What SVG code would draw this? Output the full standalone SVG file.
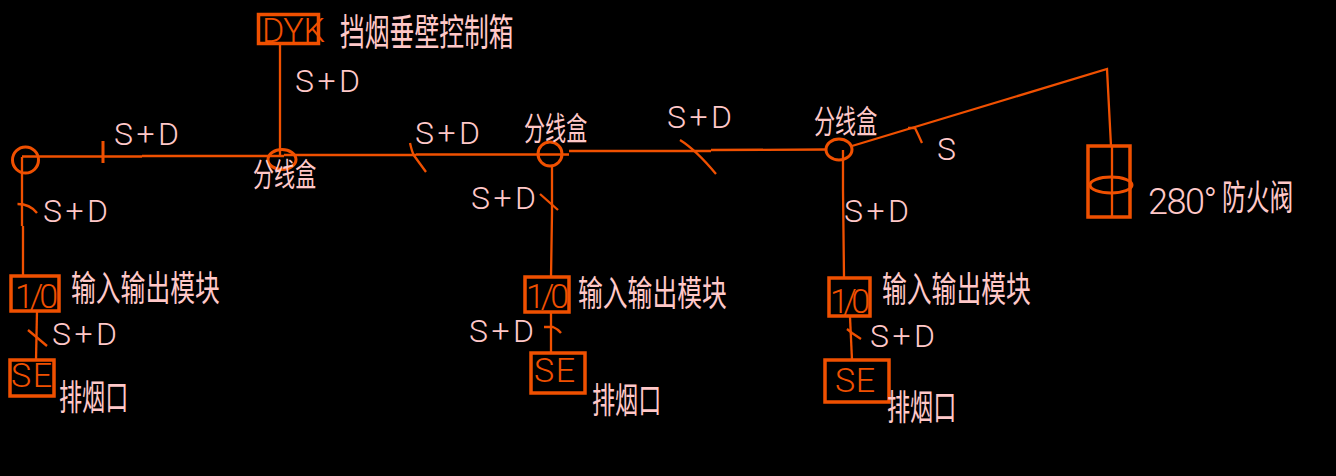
<svg xmlns="http://www.w3.org/2000/svg" width="1336" height="476" viewBox="0 0 1336 476">
<style>
.w{fill:none;stroke:#f05000;stroke-width:2.3}
.b{fill:none;stroke:#f05000;stroke-width:3.5}
.c{fill:none;stroke:#f05000;stroke-width:3}
.l{fill:#f05000;font-family:Roboto,"Liberation Sans",sans-serif;font-size:34px;font-weight:300}
.t{fill:#ffc8c8;font-family:Roboto,"Liberation Sans",sans-serif;font-size:32px;font-weight:300}
.z{fill:#ffc8c8;font-family:"Noto Sans CJK SC","Liberation Sans",sans-serif;font-size:34px;font-weight:400}
</style>
<rect width="1336" height="476" fill="#000"/>
<g id="connectors">
<path class="w" d="M22 156.500H142M142 156H284M284 155H416M416 154.500H569M569 151H711M711 150L826 149.500"/>
<path class="w" d="M280 43V155"/>
<path class="w" d="M22 157V226M23 226V277"/>
<path class="w" d="M37 311L36 360"/>
<path class="w" d="M552 166V213L551 277"/>
<path class="w" d="M551 313V353"/>
<path class="w" d="M843 150V190L844 277"/>
<path class="w" d="M850 317L852 360"/>
<path class="w" d="M852 146L1107 69L1111 146"/>
<path class="c" d="M103 141V163"/>
<path class="w" d="M410 143Q412 152 414 155.500L426 172"/>
<path class="w" d="M17.500 204Q30 204 37 213"/>
<path class="w" d="M28 330L47 346"/>
<path class="w" d="M540 194L558 210"/>
<path class="w" d="M544 327H553Q558 329 561 333"/>
<path class="w" d="M680 140Q696 150 716 174"/>
<path class="w" d="M847 329L852 333L861 339"/>
<path class="w" d="M908 128H915Q918 134 922 143"/>
</g>
<g id="dyk">
<rect class="b" x="258.500" y="14.500" width="60" height="29"/>
<text class="l" x="262" y="42" textLength="63" lengthAdjust="spacing">DYK</text>
<text class="z" transform="translate(340 46) scale(.73 1.1)">挡烟垂壁控制箱</text>
</g>
<g id="junction-1"><circle class="c" cx="25.500" cy="160" r="13"/></g>
<g id="junction-2">
<ellipse class="c" cx="282" cy="159.500" rx="14" ry="10"/>
<text class="z" transform="translate(253 186) scale(.62 .95)">分线盒</text>
</g>
<g id="junction-3">
<circle class="c" cx="550" cy="154" r="12"/>
<text class="z" transform="translate(524 140) scale(.62 .95)">分线盒</text>
</g>
<g id="junction-4">
<ellipse class="c" cx="839" cy="149.500" rx="13" ry="10.500"/>
<text class="z" transform="translate(814 133) scale(.62 .95)">分线盒</text>
</g>
<g id="io-1">
<rect class="b" x="11" y="276" width="48" height="35"/>
<text class="l" x="15" y="308" textLength="43" lengthAdjust="spacing">1/0</text>
<text class="z" transform="translate(71 301) scale(.73 1.05)">输入输出模块</text>
</g>
<g id="io-2">
<rect class="b" x="525" y="277" width="44" height="35"/>
<text class="l" x="526" y="308" textLength="43" lengthAdjust="spacing">1/0</text>
<text class="z" transform="translate(578 306) scale(.73 1.05)">输入输出模块</text>
</g>
<g id="io-3">
<rect class="b" x="829" y="278" width="41" height="38"/>
<text class="l" x="830" y="313" textLength="40" lengthAdjust="spacing">1/0</text>
<text class="z" transform="translate(882 302) scale(.73 1.05)">输入输出模块</text>
</g>
<g id="se-1">
<rect class="b" x="10" y="360" width="44" height="36"/>
<text class="l" x="11" y="387" textLength="41" lengthAdjust="spacing">SE</text>
<text class="z" transform="translate(59 410) scale(.68 1.05)">排烟口</text>
</g>
<g id="se-2">
<rect class="b" x="531" y="353" width="54" height="40"/>
<text class="l" x="534" y="382" textLength="41" lengthAdjust="spacing">SE</text>
<text class="z" transform="translate(592 413) scale(.68 1.05)">排烟口</text>
</g>
<g id="se-3">
<rect class="b" x="825" y="360" width="64" height="42"/>
<text class="l" x="835" y="392" textLength="40" lengthAdjust="spacing">SE</text>
<text class="z" transform="translate(887 420) scale(.68 1.05)">排烟口</text>
</g>
<g id="damper">
<rect class="b" x="1088" y="146" width="42" height="71"/>
<path class="w" d="M1112 146V217"/>
<ellipse class="c" cx="1111" cy="185" rx="21" ry="8"/>
<text class="t" x="1148" y="214" textLength="69" lengthAdjust="spacing" style="font-size:36px">280°</text>
<text class="z" transform="translate(1222 210) scale(.7 1.05)">防火阀</text>
</g>
<g id="labels">
<text class="t" x="295" y="92" textLength="65" lengthAdjust="spacing">S+D</text>
<text class="t" x="114" y="145" textLength="65" lengthAdjust="spacing">S+D</text>
<text class="t" x="415" y="144" textLength="65" lengthAdjust="spacing">S+D</text>
<text class="t" x="667" y="128" textLength="65" lengthAdjust="spacing">S+D</text>
<text class="t" x="43" y="222" textLength="65" lengthAdjust="spacing">S+D</text>
<text class="t" x="471" y="209" textLength="65" lengthAdjust="spacing">S+D</text>
<text class="t" x="844" y="222" textLength="65" lengthAdjust="spacing">S+D</text>
<text class="t" x="52" y="345" textLength="65" lengthAdjust="spacing">S+D</text>
<text class="t" x="469" y="342" textLength="65" lengthAdjust="spacing">S+D</text>
<text class="t" x="870" y="347" textLength="65" lengthAdjust="spacing">S+D</text>
<text class="t" x="937" y="160">S</text>
</g>
</svg>
